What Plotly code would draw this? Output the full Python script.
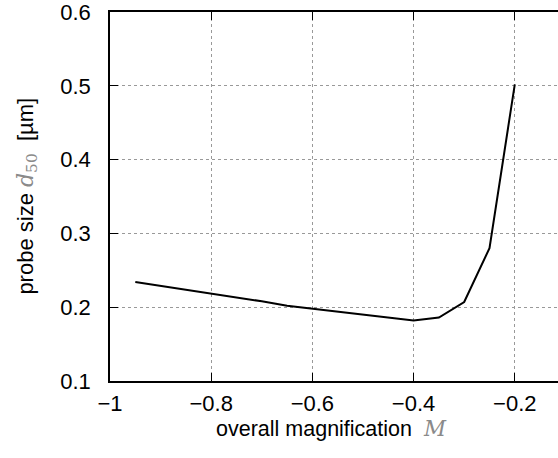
import plotly.graph_objects as go

magnification = [-0.95, -0.9, -0.85, -0.8, -0.75, -0.7, -0.65, -0.6, -0.55, -0.5, -0.45, -0.4, -0.35, -0.3, -0.25, -0.2]
probe_size = [0.234, 0.229, 0.224, 0.219, 0.214, 0.208, 0.202, 0.198, 0.194, 0.190, 0.185, 0.182, 0.186, 0.207, 0.280, 0.502]

x_ticks = [-1, -0.8, -0.6, -0.4, -0.2]
x_tick_labels = ["\u22121", "\u22120.8", "\u22120.6", "\u22120.4", "\u22120.2"]
y_ticks = [0.1, 0.2, 0.3, 0.4, 0.5, 0.6]
y_tick_labels = ["0.1", "0.2", "0.3", "0.4", "0.5", "0.6"]

math = "<span style='font-family:DejaVu Serif, serif; color:#8a8a8a'>{}</span>"
x_title = "overall magnification\u00a0 " + math.format("<i>M</i>")
y_title = "probe size " + math.format("<i>d</i>") + math.format("<sub>50</sub>") + "\u00a0 [\u00b5m]"

fig = go.Figure()
fig.add_trace(go.Scatter(x=magnification, y=probe_size, mode="lines",
                         line=dict(color="black", width=2), showlegend=False,
                         hoverinfo="skip"))

font_main = "Liberation Sans, Arial, sans-serif"

fig.update_layout(
    width=558, height=458,
    margin=dict(l=110, r=0, t=12, b=77),
    paper_bgcolor="white", plot_bgcolor="white",
    hovermode=False,
    font=dict(family=font_main, size=22, color="black"),
    xaxis=dict(
        range=[-1, -0.1146],
        tickmode="array", tickvals=x_ticks, ticktext=x_tick_labels,
        ticks="inside", ticklen=8, tickwidth=1, tickcolor="black",
        showline=True, linecolor="black", linewidth=1.5, mirror="ticks",
        showgrid=True, gridcolor="#999999", griddash="dot", gridwidth=1,
        zeroline=False, automargin=False, showspikes=False,
        ticklabelstandoff=2, ticklabeloverflow="allow",
    ),
    yaxis=dict(
        range=[0.1, 0.6],
        tickmode="array", tickvals=y_ticks, ticktext=y_tick_labels,
        ticks="inside", ticklen=8, tickwidth=1, tickcolor="black",
        showline=True, linecolor="black", linewidth=1.5, mirror=False,
        showgrid=True, gridcolor="#999999", griddash="dot", gridwidth=1,
        zeroline=False, automargin=False, showspikes=False,
        ticklabelstandoff=13, ticklabeloverflow="allow",
    ),
    annotations=[
        dict(text=x_title, xref="paper", yref="paper", x=0.494, y=-0.128,
             xanchor="center", yanchor="middle", showarrow=False,
             font=dict(size=21.5)),
        dict(text=y_title, xref="paper", yref="paper", x=-0.185, y=0.5,
             xanchor="center", yanchor="middle", showarrow=False, textangle=-90,
             font=dict(size=22)),
    ],
)

fig.write_html("out.html", config={"displayModeBar": False},
               post_script="document.body.style.margin='0';")
